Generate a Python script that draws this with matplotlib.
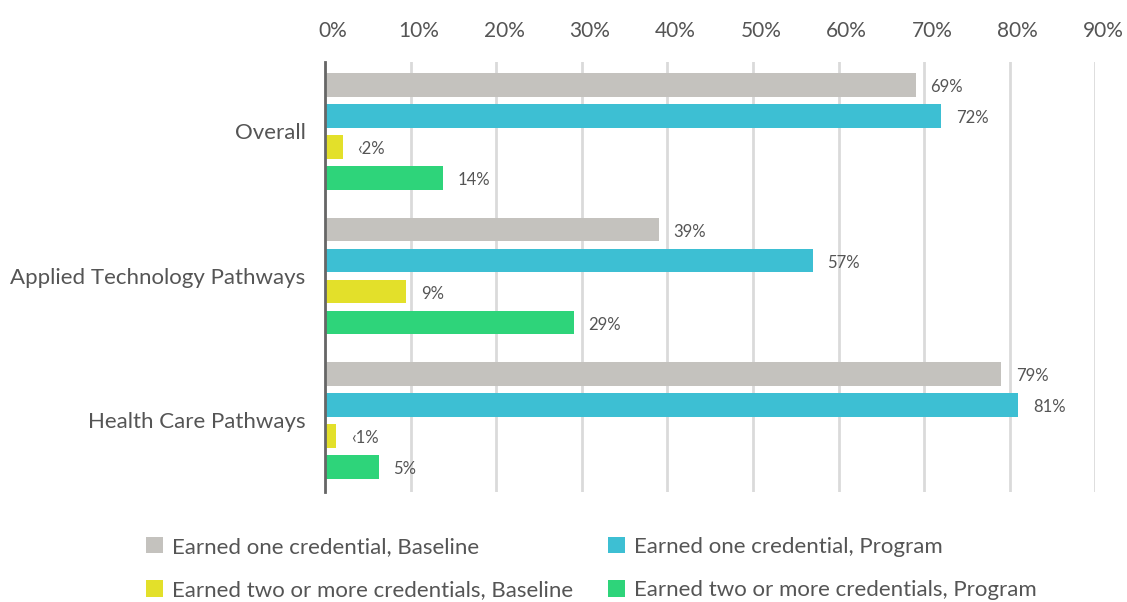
import matplotlib.pyplot as plt
import matplotlib.transforms as mtransforms
import numpy as np

categories = ["Overall", "Applied Technology Pathways", "Health Care Pathways"]
series_names = [
    "Earned one credential, Baseline",
    "Earned one credential, Program",
    "Earned two or more credentials, Baseline",
    "Earned two or more credentials, Program",
]
colors = ["#c4c2be", "#3dbfd3", "#e3e02a", "#2ed47a"]

# bar lengths (percent), per series
one_baseline = [69, 39, 79]
one_program = [72, 57, 81]
two_baseline = [2.1, 9.5, 1.3]
two_program = [13.8, 29.1, 6.3]
series_values = [one_baseline, one_program, two_baseline, two_program]

# labels printed next to the bars
one_baseline_labels = ["69%", "39%", "79%"]
one_program_labels = ["72%", "57%", "81%"]
two_baseline_labels = ["\u20392%", "9%", "\u20391%"]
two_program_labels = ["14%", "29%", "5%"]
series_labels = [one_baseline_labels, one_program_labels,
                 two_baseline_labels, two_program_labels]

xticks = list(range(0, 100, 10))

plt.rcParams["font.family"] = ["Lato", "DejaVu Sans"]
text_color = "#555555"

fig = plt.figure(figsize=(11.27, 6.02), dpi=100)
W, H = 1127, 602
left_px, right_px = 325, 1095.4
top_px, bottom_px = 62, 492
ax = fig.add_axes([left_px / W, 1 - bottom_px / H,
                   (right_px - left_px) / W, (bottom_px - top_px) / H])

group_gap = 144.5 / 31
group_centers = np.arange(len(categories)) * group_gap
offsets = np.array([-1.5, -0.5, 0.5, 1.5])
bar_h = 0.75

for i, (vals, labels, color, name) in enumerate(
        zip(series_values, series_labels, colors, series_names)):
    ys = group_centers + offsets[i]
    ax.barh(ys, vals, height=bar_h, color=color, label=name, zorder=3)
    for y, v, lab in zip(ys, vals, labels):
        ax.annotate(lab, (v, y), xytext=(10.5, -1.5), textcoords="offset points",
                    ha="left", va="center", fontsize=12, color=text_color)

ax.set_xlim(0, 90)
ax.set_ylim((bottom_px - 131.5) / 31, -(131.5 - top_px) / 31)
ax.set_xticks(xticks)
ax.set_xticklabels([f"{t}%" for t in xticks])
ax.xaxis.tick_top()
ax.tick_params(axis="x", length=0, pad=15, labelsize=15, labelcolor=text_color)
shift = mtransforms.ScaledTranslation(8 / 100, 0, fig.dpi_scale_trans)
for lab in ax.get_xticklabels():
    lab.set_transform(lab.get_transform() + shift)
ax.set_yticks(group_centers)
ax.set_yticklabels(categories)
ax.tick_params(axis="y", length=0, pad=14, labelsize=16, labelcolor=text_color)

ax.grid(axis="x", color="#dadada", linewidth=2, zorder=0)
for side in ["top", "right", "bottom"]:
    ax.spines[side].set_visible(False)
ax.spines["left"].set_color("#666666")
ax.spines["left"].set_linewidth(2)
ax.spines["left"].set_zorder(4)

handles, labels = ax.get_legend_handles_labels()
order = [0, 2, 1, 3]
fig.legend([handles[k] for k in order], [labels[k] for k in order],
           ncol=2, loc="upper left", bbox_to_anchor=(126 / W, 1 - 517 / H),
           frameon=False, fontsize=16, handlelength=0.75, handleheight=0.75,
           handletextpad=0.4, columnspacing=1.6, labelspacing=1.05,
           labelcolor=text_color)

fig.savefig("out.png", dpi=100)
